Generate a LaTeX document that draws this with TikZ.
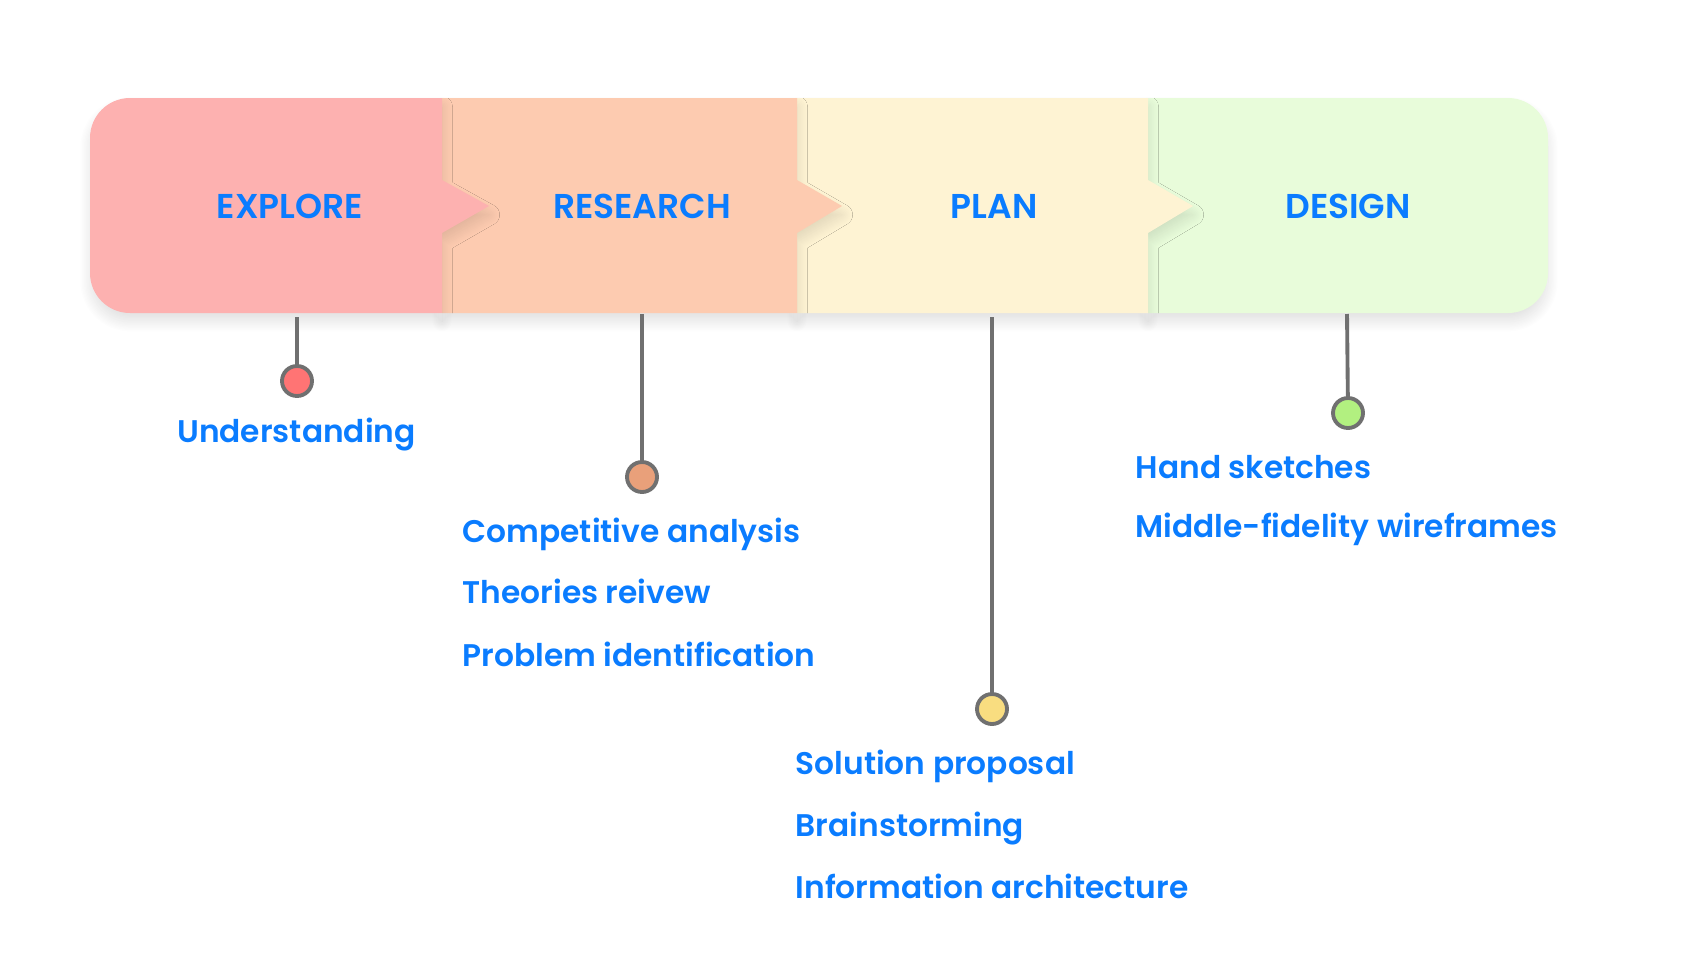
\documentclass[tikz,border=0pt]{standalone}
\usepackage{fontspec}
\setmainfont{Poppins}[BoldFont={Poppins SemiBold}]
\usetikzlibrary{calc, shadows.blur}
\definecolor{stepblue}{RGB}{10, 124, 255}
\definecolor{explorepink}{RGB}{253, 177, 176}
\definecolor{researchpeach}{RGB}{253, 203, 176}
\definecolor{plancream}{RGB}{254, 243, 211}
\definecolor{designgreen}{RGB}{232, 252, 218}
\definecolor{dotred}{RGB}{255, 116, 116}
\definecolor{dotorange}{RGB}{233, 160, 122}
\definecolor{dotyellow}{RGB}{249, 221, 128}
\definecolor{dotgreen}{RGB}{178, 240, 128}
\definecolor{stemgray}{RGB}{112, 112, 112}

\begin{document}
\begin{tikzpicture}[
        phase/.style={font=\bfseries\fontsize{9.8}{11}\selectfont, text=stepblue, inner sep=0pt},
        item/.style={font=\bfseries\fontsize{8.9}{11}\selectfont, text=stepblue, inner sep=0pt, anchor=base west},
        dot/.style={circle, draw=stemgray, line width=1.1pt, minimum size=0.30cm, inner sep=0pt},
        stem/.style={draw=stemgray, line width=1.1pt},
        band/.style={blur shadow={shadow xshift=0pt, shadow yshift=-2.5pt, shadow blur radius=3pt, shadow blur steps=24, shadow opacity=12}}
    ]
        \useasboundingbox (0,0) rectangle (16.98,-9.64);

        % Band, right part first so each tip lies over the next part
        \fill[designgreen, band] (11.48,-0.98) -- (15.08,-0.98)
            arc[start angle=90, end angle=0, radius=0.4] -- (15.48,-2.73)
            arc[start angle=0, end angle=-90, radius=0.4] -- (11.48,-3.13) -- cycle;
        \fill[plancream, band] (7.97,-0.98) -- (11.48,-0.98) -- (11.48,-1.80) -- (11.93,-2.06)
            -- (11.48,-2.33) -- (11.48,-3.13) -- (7.97,-3.13) -- cycle;
        \fill[researchpeach, band] (4.42,-0.98) -- (7.97,-0.98) -- (7.97,-1.80) -- (8.42,-2.06)
            -- (7.97,-2.33) -- (7.97,-3.13) -- (4.42,-3.13) -- cycle;
        \fill[explorepink, band] (4.42,-0.98) -- (1.30,-0.98)
            arc[start angle=90, end angle=180, radius=0.4] -- (0.90,-2.73)
            arc[start angle=180, end angle=270, radius=0.4] -- (4.42,-3.13)
            -- (4.42,-2.33) -- (4.89,-2.06) -- (4.42,-1.80) -- cycle;

        % Phase titles
        \node[phase] (explore) at (2.90,-2.06) {EXPLORE};
        \node[phase] (research) at (6.42,-2.06) {RESEARCH};
        \node[phase] (plan) at (9.94,-2.06) {PLAN};
        \node[phase] (design) at (13.48,-2.06) {DESIGN};

        % Stems and dots
        \coordinate (exploretop) at (2.97,-3.17);
        \coordinate (researchtop) at (6.42,-3.14);
        \coordinate (plantop) at (9.92,-3.17);
        \coordinate (designtop) at (13.47,-3.14);

        \node[dot, fill=dotred] (exploredot) at (2.97,-3.81) {};
        \node[dot, fill=dotorange] (researchdot) at (6.42,-4.77) {};
        \node[dot, fill=dotyellow] (plandot) at (9.92,-7.09) {};
        \node[dot, fill=dotgreen] (designdot) at (13.48,-4.13) {};

        \draw[stem] (exploretop) -- (exploredot);
        \draw[stem] (researchtop) -- (researchdot);
        \draw[stem] (plantop) -- (plandot);
        \draw[stem] (designtop) -- (designdot);

        % Explore items
        \node[item, anchor=base] (underst) at (2.965,-4.42) {Understanding};

        % Research items
        \node[item] (compet) at (4.62,-5.42) {Competitive analysis};
        \node[item] (theory) at (4.62,-6.03) {Theories reivew};
        \node[item] (problem) at (4.62,-6.66) {Problem identification};

        % Plan items
        \node[item] (solution) at (7.95,-7.74) {Solution proposal};
        \node[item] (brainst) at (7.95,-8.36) {Brainstorming};
        \node[item] (infoarch) at (7.95,-8.98) {Information architecture};

        % Design items
        \node[item] (sketch) at (11.35,-4.78) {Hand sketches};
        \node[item] (wireframe) at (11.35,-5.37) {Middle-fidelity wireframes};
    \end{tikzpicture}
\end{document}
